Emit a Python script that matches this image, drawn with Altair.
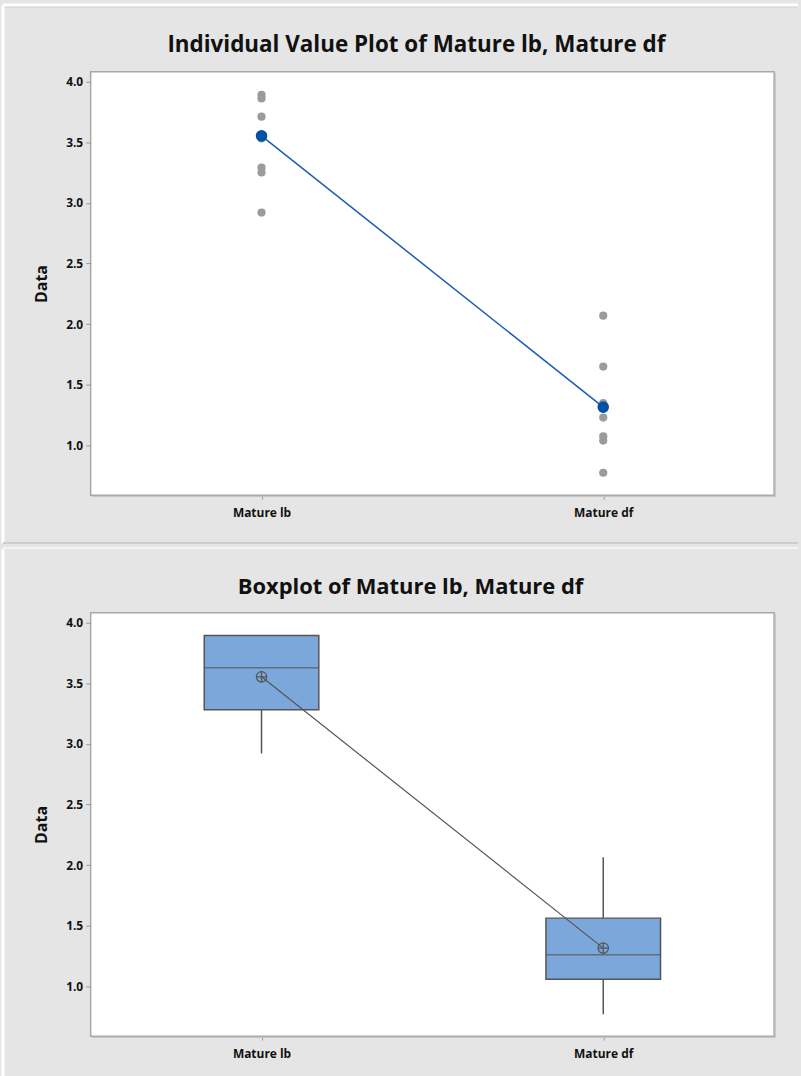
import altair as alt
import pandas as pd

# ---- data ----
categories = ["Mature lb", "Mature df"]
lb_values = [3.89, 3.86, 3.71, 3.53, 3.29, 3.25, 2.92]
df_values = [2.07, 1.65, 1.35, 1.23, 1.075, 1.04, 0.775]
means = [3.552, 1.316]
q1 = [3.28, 1.06]
medians = [3.626, 1.262]
q3 = [3.893, 1.563]
whisker_lo = [2.92, 0.771]
whisker_hi = [3.893, 2.065]
y_ticks = [1.0, 1.5, 2.0, 2.5, 3.0, 3.5, 4.0]
titles = ["Individual Value Plot of Mature lb, Mature df",
          "Boxplot of Mature lb, Mature df"]

points = pd.DataFrame({
    "cat": [categories[0]] * len(lb_values) + [categories[1]] * len(df_values),
    "value": lb_values + df_values,
})
stats = pd.DataFrame({
    "cat": categories, "mean": means, "q1": q1, "median": medians,
    "q3": q3, "lo": whisker_lo, "hi": whisker_hi,
})

FONT = "Open Sans"
W, H = 686, 425
Y_DOMAIN = [0.59, 4.08]

x_enc = alt.X(
    "cat:N", sort=categories,
    scale=alt.Scale(type="point", padding=0.5),
    axis=alt.Axis(title=None, labelAngle=0, labelFont=FONT, labelFontSize=12,
                  labelFontWeight="bold", labelColor="#111111", labelPadding=8,
                  tickSize=4, tickColor="#9a9a9a", domain=False),
)
y_scale = alt.Scale(domain=Y_DOMAIN, nice=False, zero=False)
y_axis = alt.Axis(title="Data", values=y_ticks, format=".1f", grid=False,
                  labelFont=FONT, labelFontSize=12, labelFontWeight="bold",
                  labelColor="#111111", labelPadding=3, tickSize=5,
                  tickColor="#9a9a9a", domain=False, titleFont=FONT,
                  titleFontSize=16, titleFontWeight="bold", titleColor="#111111",
                  titlePadding=16)


def y(field):
    return alt.Y(f"{field}:Q", scale=y_scale, axis=y_axis)


def one():
    return alt.Data(values=[{"k": 0}])


def hrule(yv, color, sw, x0=-88.0, x1=710.0):
    return alt.Chart(one()).mark_rule(color=color, strokeWidth=sw).encode(
        x=alt.value(x0), x2=alt.value(x1), y=alt.value(yv))


def vrule(xv, color, sw, y0, y1):
    return alt.Chart(one()).mark_rule(color=color, strokeWidth=sw).encode(
        x=alt.value(xv), y=alt.value(y0), y2=alt.value(y1))


def title_text(text, xv, yv, fs):
    return alt.Chart(alt.Data(values=[{"t": text}])).mark_text(
        font=FONT, fontSize=fs, fontWeight="bold", color="#111111",
        align="center", baseline="middle").encode(
        text="t:N", x=alt.value(xv), y=alt.value(yv))


def frame_shadow():
    return [
        vrule(W + 1.2, "#c2c2c2", 1, 1.0, H + 1.7),
        hrule(H + 1.2, "#c2c2c2", 1, 1.0, W + 1.7),
    ]


# ---- individual value plot ----
top_strip = hrule(-67.0, "#ffffff", 3)
top_line = hrule(-65.0, "#d4d4d4", 1)
left_strip = vrule(-88.0, "#ffffff", 3, -67.0, H + 48)
sep_line = hrule(H + 48.0, "#c4c4c4", 1.5)
t1 = title_text(titles[0], W / 2 - 16, -26.5, 22.5)

dots = alt.Chart(points).mark_point(filled=True, shape="circle", size=68,
                                    color="#9b9b9b", opacity=1).encode(
    x=x_enc, y=y("value"))
mean_line1 = alt.Chart(stats).mark_line(color="#1a5cb0", strokeWidth=1.5).encode(
    x=x_enc, y=y("mean"))
mean_dots1 = alt.Chart(stats).mark_point(filled=True, shape="circle", size=135,
                                         color="#0052a5", opacity=1).encode(
    x=x_enc, y=y("mean"))

top = alt.layer(top_strip, top_line, left_strip, sep_line, t1, *frame_shadow(),
                dots, mean_line1, mean_dots1).properties(width=W, height=H)

# ---- boxplot ----
sep_white = hrule(-65.0, "#f3f3f3", 2)
left_strip2 = vrule(-88.0, "#ffffff", 3, -64.0, H + 40)
t2 = title_text(titles[1], W / 2 - 22, -25.5, 22)

whisk = alt.Chart(stats).mark_rule(color="#555555", strokeWidth=1.5).encode(
    x=x_enc, y=y("lo"), y2="hi:Q")
box = alt.Chart(stats).mark_bar(size=115, fill="#7ba7da", stroke="#555555",
                                strokeWidth=1.5).encode(
    x=x_enc, y=y("q1"), y2="q3:Q")
med = alt.Chart(stats).mark_tick(size=115, thickness=1.5, color="#555555").encode(
    x=x_enc, y=y("median"))
mean_line2 = alt.Chart(stats).mark_line(color="#555555", strokeWidth=1.2).encode(
    x=x_enc, y=y("mean"))
mean_sym = alt.Chart(stats).mark_point(
    shape="M-1,0A1,1,0,1,1,1,0A1,1,0,1,1,-1,0ZM-1,0L1,0M0,-1L0,1",
    size=110, filled=False, color="#555555", strokeWidth=1.2, opacity=1).encode(
    x=x_enc, y=y("mean"))

bottom = alt.layer(sep_white, left_strip2, t2, *frame_shadow(), whisk, box, med,
                   mean_line2, mean_sym).properties(width=W, height=H)

chart = alt.vconcat(top, bottom, spacing=0).properties(
    background="#e5e5e5",
    padding={"left": 0, "top": 0, "right": 0, "bottom": 16},
).configure_view(
    fill="white", stroke="#a8a8a8", strokeWidth=1.5,
)

chart.save("out.html", embed_options={"renderer": "svg", "actions": False})
